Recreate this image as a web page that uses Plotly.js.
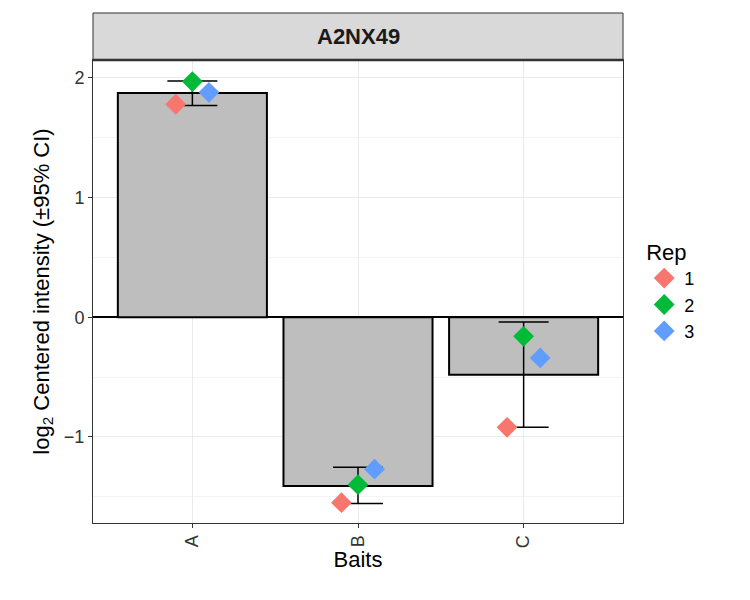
<!DOCTYPE html>
<html>
<head>
<script src="https://cdn.plot.ly/plotly-3.0.1.min.js"></script>
<style>body{margin:0}</style>
</head>
<body>
<div id="plot" style="width:750px;height:600px"></div>
<script>
// values
var baits = ["A", "B", "C"];
var means = [1.875, -1.41, -0.48];
var ciHigh = [1.975, -1.255, -0.04];
var ciLow = [1.77, -1.556, -0.92];
var reps = ["1", "2", "3"];
var repColors = ["#F8766D", "#00BA38", "#619CFF"];
var repValues = [
  [1.78, -1.55, -0.92],
  [1.97, -1.40, -0.16],
  [1.88, -1.27, -0.34]
];

var idx = baits.map((b, i) => i);

var bars = {
  x: idx,
  y: means,
  type: "bar",
  width: 0.9,
  marker: {color: "#BEBEBE", line: {color: "black", width: 2}},
  showlegend: false,
  hoverinfo: "skip"
};

var errs = {
  x: idx,
  y: means,
  type: "scatter",
  mode: "markers",
  marker: {size: 0.1, color: "rgba(0,0,0,0)"},
  error_y: {
    type: "data", symmetric: false,
    array: means.map((m, i) => ciHigh[i] - m),
    arrayminus: means.map((m, i) => m - ciLow[i]),
    color: "black", thickness: 1.5, width: 25
  },
  showlegend: false,
  hoverinfo: "skip"
};

// small dodge per replicate
var points = reps.map((r, k) => ({
  x: idx.map(i => i + (k - 1) * 0.1),
  y: repValues[k],
  type: "scatter",
  mode: "markers",
  name: r,
  marker: {symbol: "diamond", size: 16, color: repColors[k]}
}));

var data = [bars, errs].concat(points);

var layout = {
  width: 750, height: 600,
  margin: {l: 93, r: 127, t: 60, b: 77},
  paper_bgcolor: "white", plot_bgcolor: "white",
  font: {family: "Liberation Sans, Arial, sans-serif", color: "black"},
  xaxis: {
    range: [-0.6, 2.6],
    tickvals: idx, ticktext: baits, tickangle: -90,
    tickfont: {size: 18, color: "#333"},
    ticks: "outside", ticklen: 4, tickcolor: "#333",
    showgrid: true, gridcolor: "#EBEBEB", gridwidth: 1,
    zeroline: false, showline: true, linecolor: "#333", mirror: true,
    title: {text: "Baits", font: {size: 22}, standoff: 4}
  },
  yaxis: {
    range: [-1.72, 2.15],
    tickvals: [-1, 0, 1, 2], ticktext: ["\u22121", "0", "1", "2"],
    tickfont: {size: 18, color: "#333"},
    ticks: "outside", ticklen: 4, tickcolor: "#333",
    showgrid: true, gridcolor: "#EBEBEB", gridwidth: 1,
    minor: {dtick: 0.5, tick0: 0.5, showgrid: true, gridcolor: "#F4F4F4", gridwidth: 0.8},
    zeroline: true, zerolinecolor: "black", zerolinewidth: 2,
    showline: true, linecolor: "#333", mirror: true,
    title: {text: "log<sub>2</sub> Centered intensity (\u00b195% CI)", font: {size: 22}, standoff: 8}
  },
  legend: {
    x: 1.04, y: 0.63, xanchor: "left", yanchor: "top",
    title: {text: "Rep", font: {size: 22}},
    font: {size: 18}, tracegroupgap: 8, itemwidth: 30
  },
  shapes: [{
    type: "rect", xref: "paper", yref: "paper",
    x0: 0, x1: 1, y0: 1, y1: 1 + 47 / 463,
    fillcolor: "#D9D9D9", line: {color: "#333", width: 1}
  }, {
    type: "line", xref: "paper", yref: "paper",
    x0: 0, x1: 1, y0: 1, y1: 1, line: {color: "#333", width: 2.5}
  }],
  annotations: [{
    text: "<b>A2NX49</b>", xref: "paper", yref: "paper",
    x: 0.5, y: 1 + 23.5 / 463, yanchor: "middle", xanchor: "center", showarrow: false,
    font: {size: 22, color: "#1A1A1A"}
  }]
};

Plotly.newPlot("plot", data, layout, {displayModeBar: false});
</script>
</body>
</html>
